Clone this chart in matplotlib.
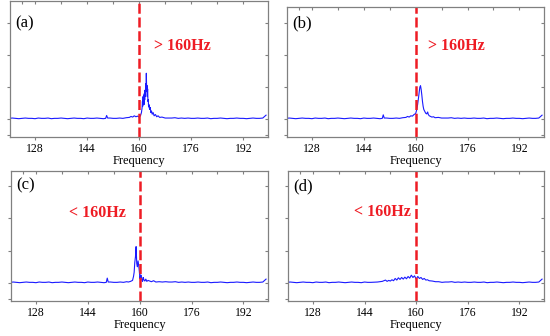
import numpy as np
import matplotlib as mpl
mpl.use("agg")
import matplotlib.pyplot as plt

plt.rcParams['font.family'] = ['Liberation Serif', 'DejaVu Serif']

# shared flat part of the spectra, 1 Hz grid
base_freq = list(range(120, 200))
base_amp = [0.02, 0.03, 0.02, 0.01, 0.02, 0.03, 0.02, 0.02, 0.01, 0.03,
            0.02, 0.02, 0.03, 0.01, 0.02, 0.02, 0.03, 0.02, 0.01, 0.02,
            0.03, 0.02, 0.02, 0.01, 0.03, 0.02, 0.02, 0.03, 0.02, 0.01,
            0.02, 0.03, 0.02, 0.02, 0.03, 0.02, 0.04, 0.03, 0.04, 0.05,
            0.05, 0.04, 0.05, 0.04, 0.05, 0.04, 0.04, 0.03, 0.04, 0.03,
            0.03, 0.04, 0.02, 0.03, 0.02, 0.03, 0.02, 0.02, 0.03, 0.02,
            0.02, 0.03, 0.01, 0.02, 0.02, 0.03, 0.02, 0.01, 0.02, 0.02,
            0.03, 0.02, 0.02, 0.01, 0.02, 0.03, 0.02, 0.02, 0.03, 0.12]

# small line near 150 Hz
bump_freq = [149.7, 150.0, 150.3]
bump_a = [0.02, 0.11, 0.03]
bump_b = [0.02, 0.13, 0.03]
bump_c = [0.02, 0.15, 0.03]

peak_a_freq = [157.0, 157.5, 158.0, 158.5, 159.0, 159.5, 160.0, 160.4, 160.7, 160.9,
               161.0, 161.1, 161.2, 161.3, 161.4, 161.5, 161.6, 161.7, 161.8, 161.9,
               162.0, 162.1, 162.2, 162.3, 162.4, 162.5, 162.6, 162.7, 162.8, 162.9,
               163.0, 163.2, 163.4, 163.6, 163.8, 164.0, 164.3, 164.6, 165.0, 165.4,
               165.8, 166.3, 167.0, 168.0]
peak_a_amp = [0.05, 0.08, 0.06, 0.10, 0.07, 0.09, 0.06, 0.10, 0.20, 0.35,
              0.55, 0.40, 0.70, 0.55, 0.75, 0.45, 0.80, 0.60, 0.90, 0.70,
              1.10, 0.85, 1.43, 0.95, 1.05, 0.70, 0.94, 0.55, 0.60, 0.38,
              0.45, 0.30, 0.36, 0.20, 0.25, 0.15, 0.20, 0.10, 0.14, 0.07,
              0.10, 0.05, 0.06, 0.03]

peak_b_freq = [157.0, 157.5, 158.0, 158.5, 159.0, 159.5, 160.0, 160.3, 160.6, 160.9,
               161.1, 161.3, 161.5, 161.7, 161.9, 162.1, 162.3, 162.5, 162.8, 163.1,
               163.4, 163.7, 163.9, 164.2, 164.6, 165.0, 165.5, 166.0, 167.0, 168.0]
peak_b_amp = [0.05, 0.08, 0.06, 0.10, 0.09, 0.14, 0.17, 0.28, 0.45, 0.68,
              0.85, 1.00, 1.04, 0.92, 0.75, 0.55, 0.40, 0.30, 0.24, 0.18,
              0.16, 0.22, 0.14, 0.10, 0.08, 0.06, 0.07, 0.04, 0.05, 0.03]

peak_c_freq = [156.5, 157.2, 157.8, 158.1, 158.3, 158.5, 158.7, 158.9, 159.1, 159.3,
               159.5, 159.7, 159.9, 160.1, 160.3, 160.5, 160.7, 160.9, 161.1, 161.3,
               161.6, 161.9, 162.2, 162.6, 163.1, 163.6, 164.3, 165.0, 166.0]
peak_c_amp = [0.03, 0.05, 0.08, 0.20, 0.33, 0.64, 0.80, 1.12, 0.60, 0.50,
              0.68, 0.55, 0.35, 0.13, 0.25, 0.23, 0.08, 0.05, 0.17, 0.10,
              0.06, 0.12, 0.05, 0.08, 0.06, 0.04, 0.07, 0.03, 0.04]

peak_d_freq = [146.0, 148.0, 149.5, 150.5, 151.0, 151.5, 152.0, 152.5, 153.0, 153.5,
               154.0, 154.5, 155.0, 155.5, 156.0, 156.5, 157.0, 157.5, 158.0, 158.5,
               159.0, 159.5, 160.0, 160.5, 161.0, 161.5, 162.0, 162.5, 163.0, 163.5,
               164.0, 165.0, 166.0, 167.0, 168.0]
peak_d_amp = [0.02, 0.03, 0.05, 0.09, 0.05, 0.08, 0.06, 0.10, 0.07, 0.14,
              0.09, 0.16, 0.11, 0.17, 0.12, 0.18, 0.13, 0.20, 0.15, 0.24,
              0.17, 0.22, 0.12, 0.20, 0.14, 0.17, 0.11, 0.14, 0.09, 0.10,
              0.07, 0.06, 0.04, 0.04, 0.02]

panel_labels = ["(a)", "(b)", "(c)", "(d)"]
notes = ["> 160Hz", "> 160Hz", "< 160Hz", "< 160Hz"]
note_freq = [164.6, 163.8, 138.2, 140.7]
xticks = [128, 144, 160, 176, 192]
mark_freq = 160


def merge(segments):
    """put the peak segments on top of the flat baseline"""
    f = []
    a = []
    for x, y in zip(base_freq, base_amp):
        inside = False
        for sf, sa in segments:
            if min(sf) - 0.3 <= x <= max(sf) + 0.3:
                inside = True
        if not inside:
            f.append(x)
            a.append(y)
    for sf, sa in segments:
        f += sf
        a += sa
    order = np.argsort(f)
    return np.array(f)[order], np.array(a)[order]


spectra = [merge([(bump_freq, bump_a), (peak_a_freq, peak_a_amp)]),
           merge([(bump_freq, bump_b), (peak_b_freq, peak_b_amp)]),
           merge([(bump_freq, bump_c), (peak_c_freq, peak_c_amp)]),
           merge([(peak_d_freq, peak_d_amp)])]

W, H = 550, 336
# left, top, right, bottom in pixels ; baseline pixel ; px per unit
boxes = [(10, 1, 268, 137, 119, 32.0),
         (287, 7, 544, 137, 119, 32.0),
         (11, 171, 268, 301, 283, 32.5),
         (288, 171, 544, 301, 283, 32.5)]
note_y = [46, 46, 213, 212]
label_y = [23, 23, 185, 186]

fig = plt.figure(figsize=(W / 100, H / 100), dpi=100)
grey = '#808080'
for i in range(4):
    l, t, r, b, base, s = boxes[i]
    ax = fig.add_axes([l / W, (H - b) / H, (r - l) / W, (b - t) / H])
    f, a = spectra[i]
    ax.plot(f, a, color='#1a1aff', lw=0.8)
    ax.axvline(mark_freq, color='#ee1c24', lw=1.8, dashes=(4, 1.5))
    ax.set_xlim(120.3, 199.6)
    ylo = -(b - base) / s
    yhi = (base - t) / s
    ax.set_ylim(ylo, yhi)
    ax.set_xticks(xticks)
    ax.set_xticklabels([str(v) for v in xticks], fontsize=8.5)
    ax.set_yticks([-0.5, 0, 1, 2, 3])
    ax.set_yticklabels([])
    ax.tick_params(axis='both', direction='out', length=2.5, width=0.8, color=grey, pad=2)
    for sp in ax.spines.values():
        sp.set_color(grey)
        sp.set_linewidth(0.9)
    ax.set_xlabel("Frequency", fontsize=9, labelpad=0)
    # inward ticks on top and right
    top = ax.secondary_xaxis('top')
    top.set_xticks([124, 128, 136, 144, 152, 160, 168, 176, 184, 192])
    top.set_xticklabels([])
    top.tick_params(direction='in', length=2.5, width=0.8, color=grey)
    top.spines['top'].set_visible(False)
    right = ax.secondary_yaxis('right')
    right.set_yticks([-0.5, 0, 1, 2, 3])
    right.set_yticklabels([])
    right.tick_params(direction='in', length=2.5, width=0.8, color=grey)
    right.spines['right'].set_visible(False)
    ax.text(0.02, 1 - (label_y[i] - t) / (b - t), panel_labels[i], transform=ax.transAxes,
            fontsize=12, va='center', ha='left')
    ax.text(note_freq[i], yhi - (note_y[i] - t) / s, notes[i], color='#ee1c24',
            fontsize=11.5, fontweight='bold', va='center', ha='left')

plt.savefig("out.png", dpi=100)
